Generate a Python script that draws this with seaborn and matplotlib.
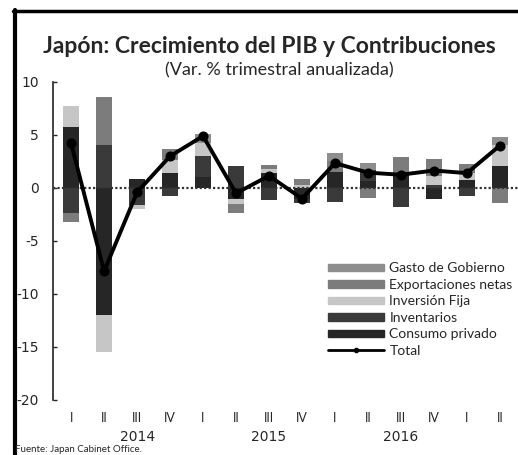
import numpy as np
import pandas as pd
import matplotlib
matplotlib.use("Agg")
import matplotlib.pyplot as plt
from matplotlib.lines import Line2D
from matplotlib.patches import Patch
import seaborn as sns

# Trimestres 2014 I - 2017 II
trimestres = ["I", "II", "III", "IV", "I", "II", "III", "IV",
              "I", "II", "III", "IV", "I", "II"]
anios = ["2014", "2015", "2016"]

# Contribuciones (pp, var. % trimestral anualizada)
consumo = [5.75, -12.0, 0.85, 1.4, 1.0, -1.0, 1.4, -1.0, 1.55, 0.7, 1.25, -1.0, 0.8, 2.05]
inventarios = [-2.4, 4.1, -1.6, -0.8, 2.0, 2.05, -1.15, -0.45, -1.3, 1.0, -1.8, 0.3, -0.75, 0.0]
inv_fija = [1.95, -3.5, -0.35, 1.2, 1.2, -0.5, 0.4, 0.25, 0.0, 0.0, 0.0, 0.8, 0.6, 2.0]
exportaciones = [-0.8, 4.5, 0.0, 1.05, 0.0, -0.9, 0.4, 0.6, 1.0, -0.9, 1.7, 1.65, 0.85, -1.45]
gasto = [0.0, 0.0, 0.0, 0.0, 0.9, 0.0, 0.0, 0.0, 0.75, 0.65, 0.0, 0.0, 0.0, 0.8]
total = [4.2, -7.85, -0.4, 3.0, 4.9, -0.5, 1.15, -1.0, 2.35, 1.45, 1.25, 1.65, 1.4, 4.0]

series = {
    "Consumo privado": consumo,
    "Inventarios": inventarios,
    "Inversión Fija": inv_fija,
    "Exportaciones netas": exportaciones,
    "Gasto de Gobierno": gasto,
}
colores = {
    "Consumo privado": "#262626",
    "Inventarios": "#3a3a3a",
    "Inversión Fija": "#c6c6c6",
    "Exportaciones netas": "#7c7c7c",
    "Gasto de Gobierno": "#8e8e8e",
}

sns.set_style("white")
plt.rcParams["font.family"] = ["Lato", "DejaVu Sans"]

fig = plt.figure(figsize=(5.18, 4.55), dpi=100)
ax = fig.add_axes([0.1023, 0.1209, 0.8977, 0.6989])

x = np.arange(len(trimestres))
pos_base = np.zeros(len(x))
neg_base = np.zeros(len(x))
for nombre, vals in series.items():
    v = np.array(vals)
    p = np.where(v > 0, v, 0)
    n = np.where(v < 0, v, 0)
    ax.bar(x, p, bottom=pos_base, width=0.5, color=colores[nombre], linewidth=0, zorder=2)
    ax.bar(x, n, bottom=neg_base, width=0.5, color=colores[nombre], linewidth=0, zorder=2)
    pos_base += p
    neg_base += n

ax.axhline(0, color="#333333", lw=1.6, ls=(0, (1, 1)), zorder=3)

df_total = pd.DataFrame({"x": x, "Total": total})
sns.lineplot(data=df_total, x="x", y="Total", ax=ax, color="black", lw=2.8,
             marker="o", markersize=6.5, markeredgecolor="black", zorder=4)

ax.set_xlim(-0.55, 13.55)
ax.set_ylim(-20, 10)
ax.set_yticks([10, 5, 0, -5, -10, -15, -20])
ax.set_yticklabels(["10", "5", "0", "-5", "-10", "-15", "-20"], family="DejaVu Sans", fontsize=10)
ax.set_xticks(x)
ax.set_xticklabels(trimestres, fontsize=9)
ax.tick_params(axis="x", length=0, pad=9)
ax.tick_params(axis="y", length=3, direction="in", width=1, pad=10, left=True)
ax.set_xlabel("")
ax.set_ylabel("")
for s in ["top", "right", "bottom"]:
    ax.spines[s].set_visible(False)
ax.spines["left"].set_color("#222222")
ax.spines["left"].set_linewidth(1.2)

for i, a in enumerate(anios):
    ax.text(2 + 4 * i, -0.116, a, transform=ax.get_xaxis_transform(), ha="center",
            va="center", fontsize=10, family="DejaVu Sans")

orden = ["Gasto de Gobierno", "Exportaciones netas", "Inversión Fija", "Inventarios", "Consumo privado"]
handles = [Patch(color=colores[k]) for k in orden]
labels = list(orden)
handles.append(Line2D([], [], color="black", lw=2, marker="o", markersize=3))
labels.append("Total")
ax.legend(handles, labels, loc="upper left", bbox_to_anchor=(0.58, 0.45), frameon=False,
          fontsize=10, handlelength=4.0, handleheight=0.45, handletextpad=0.4,
          labelspacing=0.32, borderaxespad=0)

fig.text(0.52, 0.897, "Japón: Crecimiento del PIB y Contribuciones", ha="center",
         va="center", fontsize=16.5, fontweight="bold")
fig.text(0.54, 0.845, "(Var. % trimestral anualizada)", ha="center", va="center", fontsize=13)
fig.text(0.029, 0.011, "Fuente: Japan Cabinet Office.", ha="left", va="center", fontsize=7)

fig.add_artist(Line2D([0.028, 0.028], [0.0, 0.978], color="black", lw=3, transform=fig.transFigure))
fig.add_artist(Line2D([0.026, 1.0], [0.976, 0.976], color="black", lw=2.5, transform=fig.transFigure))

fig.savefig("out.png", dpi=100)
